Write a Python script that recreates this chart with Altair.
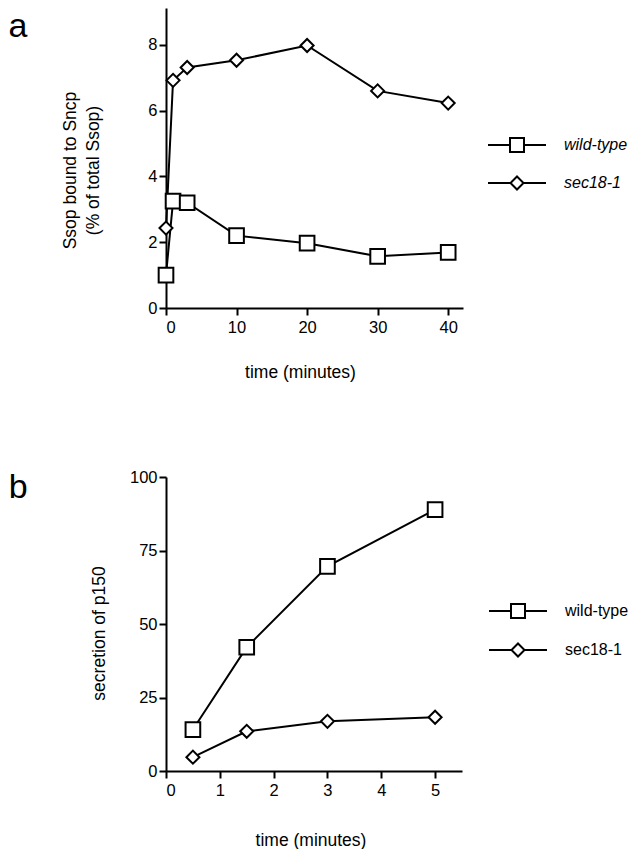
import altair as alt
import pandas as pd

series_names = ["wild-type", "sec18-1"]

# panel a
a_time = [0, 1, 3, 10, 20, 30, 40]
a_wild = [1.0, 3.25, 3.2, 2.2, 1.97, 1.57, 1.69]
a_sec = [2.43, 6.92, 7.31, 7.53, 7.98, 6.6, 6.23]

# panel b
b_time = [0.5, 1.5, 3, 5]
b_wild = [14.1, 42.1, 69.6, 88.9]
b_sec = [4.7, 13.5, 16.9, 18.3]

a_xticks = [0, 10, 20, 30, 40]
a_yticks = [0, 2, 4, 6, 8]
b_xticks = [0, 1, 2, 3, 4, 5]
b_yticks = [0, 25, 50, 75, 100]

FONT = "Liberation Sans"

SQ_PATH = "M-2.9,0L-0.7,0M0.7,0L2.9,0M-0.7,-0.7L0.7,-0.7L0.7,0.7L-0.7,0.7Z"
DI_PATH = "M-2.9,0L-0.65,0M0.65,0L2.9,0M0,-0.65L0.65,0L0,0.65L-0.65,0Z"


def make_df(times, wild, sec):
    rows = []
    for t, v in zip(times, wild):
        rows.append({"time": t, "value": v, "series": series_names[0]})
    for t, v in zip(times, sec):
        rows.append({"time": t, "value": v, "series": series_names[1]})
    return pd.DataFrame(rows)


def panel(df, letter, xdom, xticks, ydom, yticks, ytitle, w, h,
          ytitlepad, ytitley, xtitlepad, xtitlex, legx, legy, legrow,
          italic, sizes, letter_offset):
    base = alt.Chart(df)
    yaxis_kw = dict(values=yticks, title=ytitle, titlePadding=ytitlepad,
                    format="d")
    if ytitley is not None:
        yaxis_kw["titleY"] = ytitley
    x = alt.X("time:Q",
              scale=alt.Scale(domain=xdom, nice=False, zero=False),
              axis=alt.Axis(values=xticks, title="time (minutes)",
                            titlePadding=xtitlepad, titleX=xtitlex,
                            format="d"))
    y = alt.Y("value:Q",
              scale=alt.Scale(domain=ydom, nice=False),
              axis=alt.Axis(**yaxis_kw))
    line = base.mark_line(color="black", strokeWidth=2).encode(
        x=x, y=y, detail="series:N", order="time:Q")
    pts = base.mark_point(filled=True, fill="white", stroke="black",
                          strokeWidth=2, opacity=1).encode(
        x=x, y=y,
        shape=alt.Shape("series:N",
                        scale=alt.Scale(domain=series_names,
                                        range=["square", "diamond"]),
                        legend=None),
        size=alt.Size("series:N",
                      scale=alt.Scale(domain=series_names, range=sizes),
                      legend=None),
    )
    leg = base.mark_point(filled=False, color="black", strokeWidth=2,
                          opacity=0).encode(
        x=x, y=y,
        shape=alt.Shape(
            "series:N",
            scale=alt.Scale(domain=series_names, range=[SQ_PATH, DI_PATH]),
            legend=alt.Legend(
                title=None, orient="none", legendX=legx, legendY=legy,
                symbolSize=400, symbolStrokeWidth=2,
                symbolStrokeColor="black", symbolFillColor="white",
                symbolOpacity=1,
                labelFont=FONT, labelFontSize=16, labelColor="black",
                labelFontStyle="italic" if italic else "normal",
                labelOffset=36, rowPadding=legrow, padding=0,
            ),
        ),
    )
    return alt.layer(line, pts, leg).resolve_scale(
        shape="independent"
    ).properties(
        width=w, height=h,
        title=alt.TitleParams(letter, orient="left", anchor="end", angle=0,
                              fontSize=34, font=FONT, fontWeight="normal",
                              color="black", offset=letter_offset,
                              baseline="top", dy=2),
    )


dfa = make_df(a_time, a_wild, a_sec)
dfb = make_df(b_time, b_wild, b_sec)

pa = panel(dfa, "a", [0, 42.1], a_xticks, [0, 9.12], a_yticks,
           ["Ssop bound to Sncp", "(% of total Ssop)"], 297, 300,
           45, 162, 28, 134, 340, 126, 16, True, [215, 170], 15.5)
pb = panel(dfb, "b", [0, 5.5], b_xticks, [0, 100], b_yticks,
           "secretion of p150", 296, 294,
           21, 156, 33, 144.5, 341, 123, 17, False, [230, 190], 44)

chart = alt.vconcat(pa, pb, spacing=88).properties(padding=0).configure_view(
    stroke=None
).configure_axis(
    grid=False, domainColor="black", domainWidth=2, tickColor="black",
    tickWidth=2, tickSize=7, labelFont=FONT, labelFontSize=16.5,
    labelColor="black", labelPadding=2, titleFont=FONT, titleFontSize=17.5,
    titleFontWeight="normal", titleColor="black", titleLineHeight=23,
).configure_axisX(labelPadding=4)

chart.save("out.html", embed_options={"renderer": "svg", "actions": False})
